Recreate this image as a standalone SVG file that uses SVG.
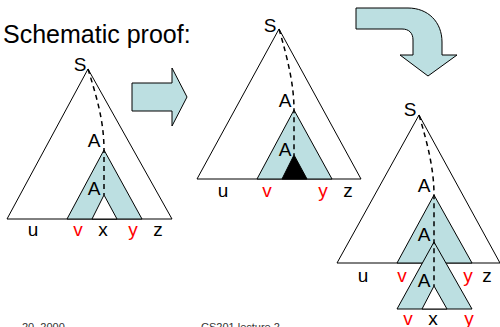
<svg xmlns="http://www.w3.org/2000/svg" width="500" height="327" viewBox="0 0 500 327">
<style>
.t{font-family:"Liberation Sans",Arial,sans-serif;font-size:19px;fill:#000;text-anchor:middle}
.r{fill:#ff0000}
.tri{fill:#fff;stroke:#000;stroke-width:1}
.sh{fill:#bcdfe1;stroke:#000;stroke-width:1}
.dash{fill:none;stroke:#000;stroke-width:1.5;stroke-dasharray:5 4}
.foot{font-family:"Liberation Sans",Arial,sans-serif;font-size:11px;fill:#333}
</style>
<rect width="500" height="327" fill="#fff"/>
<text x="3" y="43" style="font-family:'Liberation Sans',Arial,sans-serif;font-size:25px;fill:#000">Schematic proof:</text>

<g id="tree1">
<polygon class="tri" points="88,69 7,219 172,219"/>
<polygon class="sh" points="104,150 67,219 142,219"/>
<polygon class="tri" points="104,195 92,219 117,219"/>
</g>
<g id="tree2">
<polygon class="tri" points="279,29 197,179 361,179"/>
<polygon class="sh" points="294,110 257,179 332,179"/>
<polygon points="294,155 282,179 307,179" fill="#000" stroke="#000"/>
</g>
<g id="tree3">
<polygon class="tri" points="419,115 337,263 500,263"/>
<polygon class="sh" points="434,195 397,263 472,263"/>
<polygon class="sh" points="434,242 397,309 472,309"/>
<polygon class="tri" points="434,286 422,309 447,309"/>
</g>
<g id="arrow1">
<polygon class="sh" points="132,83 172,83 172,68 187,97 172,126 172,111 132,111"/>
</g>
<g id="arrow2">
<path class="sh" d="M356,8 L408,8 C428,8 442,22 442,42 L442,55 L457,55 L428,76 L400,55 L413,55 L413,40 C413,33 409,29 402,29 L356,29 Z"/>
</g>
<g id="connectors">
<path class="dash" d="M88,69 C96,95 104,120 104,150 L104,195"/>
<path class="dash" d="M279,29 C288,60 294,85 294,110 L294,155"/>
<path class="dash" d="M419,115 C428,145 434,170 434,195 L434,286"/>
</g>
<g id="labels1">
<text class="t" x="80" y="71">S</text>
<text class="t" x="94" y="147">A</text>
<text class="t" x="94" y="195">A</text>
<text class="t" x="33" y="236">u</text>
<text class="t r" x="78" y="236">v</text>
<text class="t" x="103" y="236">x</text>
<text class="t r" x="133" y="236">y</text>
<text class="t" x="158" y="236">z</text>
</g>
<g id="labels2">
<text class="t" x="270" y="32">S</text>
<text class="t" x="285" y="107">A</text>
<text class="t" x="285" y="156">A</text>
<text class="t" x="223" y="197">u</text>
<text class="t r" x="267" y="197">v</text>
<text class="t r" x="323" y="197">y</text>
<text class="t" x="348" y="197">z</text>
</g>
<g id="labels3">
<text class="t" x="410" y="116">S</text>
<text class="t" x="424" y="192">A</text>
<text class="t" x="424" y="241">A</text>
<text class="t" x="424" y="287">A</text>
<text class="t" x="363" y="282">u</text>
<text class="t r" x="402" y="282">v</text>
<text class="t r" x="468" y="282">y</text>
<text class="t" x="487" y="282">z</text>
<text class="t r" x="408" y="325">v</text>
<text class="t" x="433" y="325">x</text>
<text class="t r" x="469" y="325">y</text>
</g>
<text class="foot" x="22" y="331">20, 2000</text>
<text class="foot" x="201" y="331">CS201 lecture 2</text>
</svg>
